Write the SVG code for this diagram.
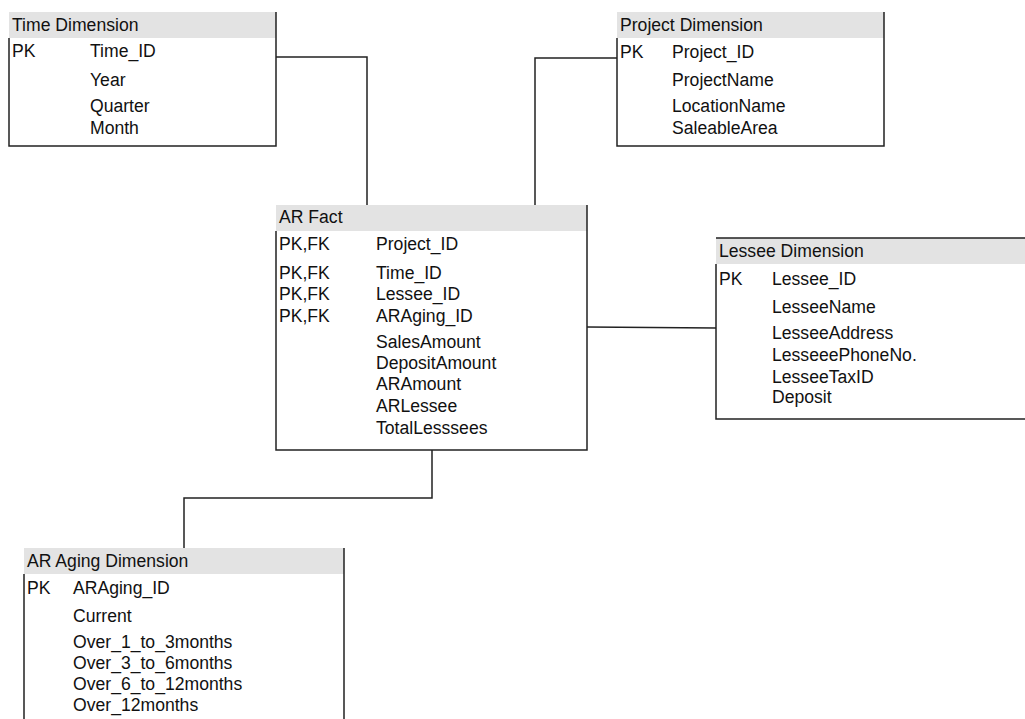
<svg xmlns="http://www.w3.org/2000/svg" width="1025" height="719" viewBox="0 0 1025 719">
<style>
.hdr{fill:#e3e3e3;stroke:none}
.bd{fill:none;stroke:#222;stroke-width:1.5}
.t{font-family:"Liberation Sans",Arial,sans-serif;font-size:17.6px;fill:#111}
.cn{fill:none;stroke:#222;stroke-width:1.5}
</style>
<rect width="1025" height="719" fill="#fff"/>
<g id="connectors">
<polyline class="cn" points="276,57 367,57 367,205"/>
<polyline class="cn" points="617,58 535,58 535,205"/>
<polyline class="cn" points="587,327 716,328"/>
<polyline class="cn" points="432,450 432,498 184,498 184,548"/>
</g>
<g id="time">
<rect class="hdr" x="9" y="12" width="267" height="26"/>
<path class="bd" d="M276,12 V146 H9 V38"/>
<text class="t" x="12" y="31">Time Dimension</text>
<text class="t" x="12" y="57">PK</text>
<text class="t" x="90" y="57">Time_ID</text>
<text class="t" x="90" y="86">Year</text>
<text class="t" x="90" y="112">Quarter</text>
<text class="t" x="90" y="134">Month</text>
</g>
<g id="project">
<rect class="hdr" x="617" y="12" width="267" height="26"/>
<path class="bd" d="M884,12 V146 H617 V38"/>
<text class="t" x="620" y="31">Project Dimension</text>
<text class="t" x="620" y="58">PK</text>
<text class="t" x="672" y="58">Project_ID</text>
<text class="t" x="672" y="86">ProjectName</text>
<text class="t" x="672" y="112">LocationName</text>
<text class="t" x="672" y="134">SaleableArea</text>
</g>
<g id="arfact">
<rect class="hdr" x="276" y="205" width="311" height="26"/>
<path class="bd" d="M587,205 V450 H276 V231"/>
<text class="t" x="279" y="223">AR Fact</text>
<text class="t" x="279" y="250">PK,FK</text>
<text class="t" x="376" y="250">Project_ID</text>
<text class="t" x="279" y="279">PK,FK</text>
<text class="t" x="376" y="279">Time_ID</text>
<text class="t" x="279" y="300">PK,FK</text>
<text class="t" x="376" y="300">Lessee_ID</text>
<text class="t" x="279" y="322">PK,FK</text>
<text class="t" x="376" y="322">ARAging_ID</text>
<text class="t" x="376" y="348">SalesAmount</text>
<text class="t" x="376" y="369">DepositAmount</text>
<text class="t" x="376" y="390">ARAmount</text>
<text class="t" x="376" y="412">ARLessee</text>
<text class="t" x="376" y="434">TotalLesssees</text>
</g>
<g id="lessee">
<rect class="hdr" x="716" y="238" width="309" height="26"/>
<path class="bd" d="M716,238 H1025 M1025,419 H716 V264" stroke="#555"/>
<text class="t" x="719" y="257">Lessee Dimension</text>
<text class="t" x="719" y="285">PK</text>
<text class="t" x="772" y="285">Lessee_ID</text>
<text class="t" x="772" y="313">LesseeName</text>
<text class="t" x="772" y="339">LesseeAddress</text>
<text class="t" x="772" y="361">LesseeePhoneNo.</text>
<text class="t" x="772" y="383">LesseeTaxID</text>
<text class="t" x="772" y="403">Deposit</text>
</g>
<g id="araging">
<rect class="hdr" x="24" y="548" width="320" height="26"/>
<path class="bd" d="M344,548 V719 M24,719 V574"/>
<text class="t" x="27" y="567">AR Aging Dimension</text>
<text class="t" x="27" y="594">PK</text>
<text class="t" x="73" y="594">ARAging_ID</text>
<text class="t" x="73" y="622">Current</text>
<text class="t" x="73" y="648">Over_1_to_3months</text>
<text class="t" x="73" y="669">Over_3_to_6months</text>
<text class="t" x="73" y="690">Over_6_to_12months</text>
<text class="t" x="73" y="711">Over_12months</text>
</g>
</svg>
